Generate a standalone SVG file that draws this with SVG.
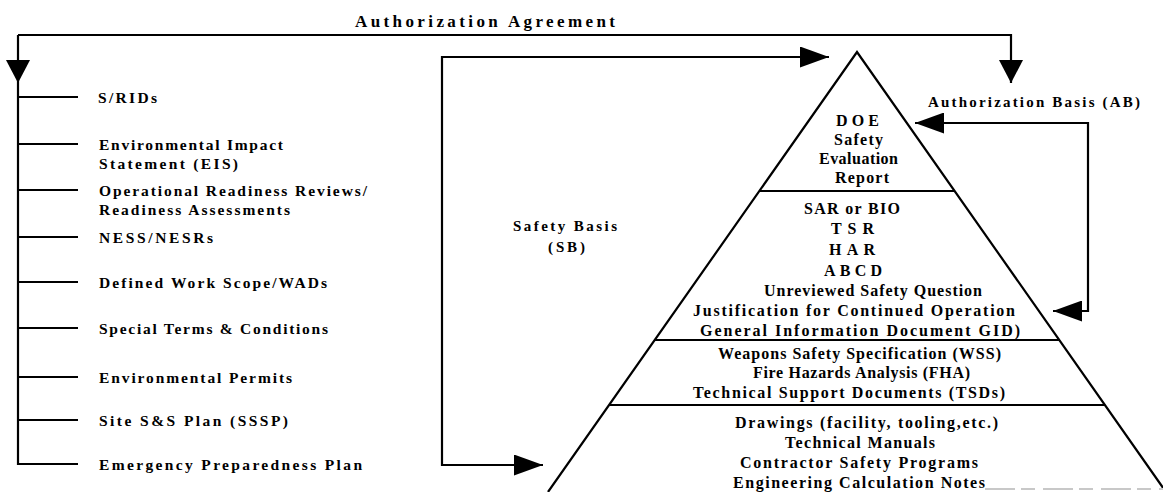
<svg xmlns="http://www.w3.org/2000/svg" width="1163" height="492" viewBox="0 0 1163 492">
  <defs>
    <style>
      .t{font-family:"Liberation Serif","Times New Roman",serif;font-weight:bold;fill:#000}
      .p{font-size:16px}
      .l{font-size:15.5px}
      .h{font-size:17px}
      .s{font-size:15px}
      .ln{stroke:#000;stroke-width:2.2;fill:none}
      .edge{stroke:#000;stroke-width:2.2;fill:none;stroke-linejoin:miter}
    </style>
    <!-- large head for the agreement feed lines -->
    <marker id="headA" viewBox="0 0 10 10" refX="10" refY="5" markerUnits="userSpaceOnUse" markerWidth="23" markerHeight="24" orient="auto" preserveAspectRatio="none">
      <path d="M0,0 L10,5 L0,10 Z" fill="#000"/>
    </marker>
    <!-- slimmer head for the basis brackets -->
    <marker id="headB" viewBox="0 0 10 10" refX="10" refY="5" markerUnits="userSpaceOnUse" markerWidth="29" markerHeight="21" orient="auto" preserveAspectRatio="none">
      <path d="M0,0 L10,5 L0,10 Z" fill="#000"/>
    </marker>
  </defs>

  <rect width="1163" height="492" fill="#fff"/>

  <g id="connectors">
    <!-- Authorization Agreement bar -->
    <path class="ln" d="M18,35 H1011 V83" marker-end="url(#headA)"/>
    <path class="ln" d="M18,35 V83" marker-end="url(#headA)"/>
    <!-- list spine and ticks -->
    <path class="ln" d="M18,83 V464 H78"/>
    <path class="ln" d="M18,97 H78 M18,144 H78 M18,190 H78 M18,237 H78 M18,282 H78 M18,328 H78 M18,377 H78 M18,420 H78"/>
    <!-- Safety Basis bracket -->
    <path class="ln" d="M442,260 V57 H829" marker-end="url(#headB)"/>
    <path class="ln" d="M442,260 V465 H543" marker-end="url(#headB)"/>
    <!-- Authorization Basis bracket -->
    <path class="ln" d="M1088,200 V123 H915" marker-end="url(#headB)"/>
    <path class="ln" d="M1088,200 V311 H1053" marker-end="url(#headB)"/>
  </g>

  <g id="title-agreement">
    <text class="t h" x="355" y="27" textLength="260" lengthAdjust="spacing">Authorization Agreement</text>
  </g>

  <g id="label-ab">
    <text class="t s" x="928" y="107" textLength="212" lengthAdjust="spacing">Authorization Basis (AB)</text>
  </g>

  <g id="label-sb">
    <text class="t s" x="513" y="231" textLength="104" lengthAdjust="spacing">Safety Basis</text>
    <text class="t s" x="548" y="252" textLength="37" lengthAdjust="spacing">(SB)</text>
  </g>

  <g id="agreement-list">
    <text class="t l" x="98" y="103" textLength="59" lengthAdjust="spacing">S/RIDs</text>
    <text class="t l" x="99" y="150" textLength="184" lengthAdjust="spacing">Environmental Impact</text>
    <text class="t l" x="99" y="169" textLength="139" lengthAdjust="spacing">Statement (EIS)</text>
    <text class="t l" x="99" y="196" textLength="268" lengthAdjust="spacing">Operational Readiness Reviews/</text>
    <text class="t l" x="99" y="215" textLength="191" lengthAdjust="spacing">Readiness Assessments</text>
    <text class="t l" x="99" y="243" textLength="114" lengthAdjust="spacing">NESS/NESRs</text>
    <text class="t l" x="99" y="288" textLength="228" lengthAdjust="spacing">Defined Work Scope/WADs</text>
    <text class="t l" x="99" y="334" textLength="229" lengthAdjust="spacing">Special Terms &amp; Conditions</text>
    <text class="t l" x="99" y="383" textLength="193" lengthAdjust="spacing">Environmental Permits</text>
    <text class="t l" x="99" y="426" textLength="189" lengthAdjust="spacing">Site S&amp;S Plan (SSSP)</text>
    <text class="t l" x="99" y="470" textLength="263" lengthAdjust="spacing">Emergency Preparedness Plan</text>
  </g>

  <g id="pyramid">
    <path class="edge" d="M548,492 L857,52 L1166,492"/>
    <path class="ln" d="M759,191 H955 M655,340 H1059 M609,405 H1105"/>
    <path d="M985,489 H1163" stroke="#c8c8c8" stroke-width="2" stroke-dasharray="30,6,14,8"/>
  </g>

  <g id="tier-ser">
    <text class="t p" x="836" y="126" textLength="43" lengthAdjust="spacing">DOE</text>
    <text class="t p" x="834" y="145" textLength="49" lengthAdjust="spacing">Safety</text>
    <text class="t p" x="819" y="164" textLength="79" lengthAdjust="spacing">Evaluation</text>
    <text class="t p" x="835" y="183" textLength="54" lengthAdjust="spacing">Report</text>
  </g>

  <g id="tier-ab-docs">
    <text class="t p" x="804" y="214" textLength="96" lengthAdjust="spacing">SAR or BIO</text>
    <text class="t p" x="831" y="234" textLength="43" lengthAdjust="spacing">TSR</text>
    <text class="t p" x="829" y="255" textLength="46" lengthAdjust="spacing">HAR</text>
    <text class="t p" x="824" y="276" textLength="58" lengthAdjust="spacing">ABCD</text>
    <text class="t p" x="764" y="296" textLength="218" lengthAdjust="spacing">Unreviewed Safety Question</text>
    <text class="t p" x="693" y="316" textLength="322" lengthAdjust="spacing">Justification for Continued Operation</text>
    <text class="t p" x="700" y="336" textLength="320" lengthAdjust="spacing">General Information Document GID)</text>
  </g>

  <g id="tier-specs">
    <text class="t p" x="718" y="359" textLength="283" lengthAdjust="spacing">Weapons Safety Specification (WSS)</text>
    <text class="t p" x="753" y="378" textLength="217" lengthAdjust="spacing">Fire Hazards Analysis (FHA)</text>
    <text class="t p" x="693" y="398" textLength="312" lengthAdjust="spacing">Technical Support Documents (TSDs)</text>
  </g>

  <g id="tier-base">
    <text class="t p" x="735" y="428" textLength="263" lengthAdjust="spacing">Drawings (facility, tooling,etc.)</text>
    <text class="t p" x="785" y="448" textLength="150" lengthAdjust="spacing">Technical Manuals</text>
    <text class="t p" x="740" y="468" textLength="238" lengthAdjust="spacing">Contractor Safety Programs</text>
    <text class="t p" x="733" y="488" textLength="252" lengthAdjust="spacing">Engineering Calculation Notes</text>
  </g>
</svg>
